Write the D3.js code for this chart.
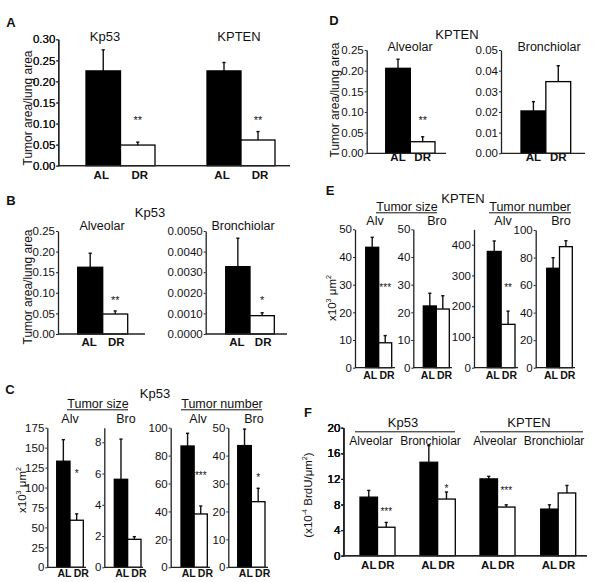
<!DOCTYPE html>
<html><head><meta charset="utf-8">
<script src="https://cdn.jsdelivr.net/npm/d3@7"></script>
<style>body{margin:0;background:#fff}svg{display:block}text{font-family:"Liberation Sans",Arial,sans-serif;fill:#111}</style>
</head><body>
<script>
// ---------- DATA ----------
const groups = ["AL", "DR"];
// Panel A: tumor area / lung area
const aKp53 = [0.225, 0.049], aKp53Err = [0.050, 0.007];
const aKpten = [0.225, 0.061], aKptenErr = [0.020, 0.020];
const aTicks = [0, 0.05, 0.10, 0.15, 0.20, 0.25, 0.30];
// Panel B: Kp53 alveolar / bronchiolar
const bAlv = [0.162, 0.0485], bAlvErr = [0.034, 0.0075];
const bBro = [0.00327, 0.00089], bBroErr = [0.00138, 0.00014];
const bAlvTicks = [0, 0.05, 0.10, 0.15, 0.20, 0.25];
const bBroTicks = [0, 0.001, 0.002, 0.003, 0.004, 0.005];
// Panel C: Kp53 tumor size / number
const cSizeAlv = [133, 59], cSizeAlvErr = [27, 8];
const cSizeBro = [5.63, 1.79], cSizeBroErr = [2.57, 0.17];
const cNumAlv = [86.9, 38.2], cNumAlvErr = [9.1, 5.7];
const cNumBro = [43.6, 23.5], cNumBroErr = [5.9, 4.8];
const cTicks1 = [0, 25, 50, 75, 100, 125, 150, 175];
const cTicks2 = [0, 2, 4, 6, 8];
const cTicks3 = [0, 20, 40, 60, 80, 100];
const cTicks4 = [0, 10, 20, 30, 40, 50];
// Panel D: KPTEN alveolar / bronchiolar
const dAlv = [0.2057, 0.028], dAlvErr = [0.022, 0.012];
const dBro = [0.0205, 0.0347], dBroErr = [0.0045, 0.0077];
const dAlvTicks = [0, 0.05, 0.10, 0.15, 0.20, 0.25];
const dBroTicks = [0, 0.01, 0.02, 0.03, 0.04, 0.05];
// Panel E: KPTEN tumor size / number
const eSizeAlv = [43.5, 9.0], eSizeAlvErr = [3.6, 2.6];
const eSizeBro = [22.3, 21.2], eSizeBroErr = [4.6, 4.8];
const eNumAlv = [378, 141], eNumAlvErr = [34, 43];
const eNumBro = [72.2, 87.9], eNumBroErr = [7.7, 4.3];
const eTicks1 = [0, 10, 20, 30, 40, 50];
const eTicks3 = [0, 100, 200, 300, 400];
const eTicks4 = [0, 20, 40, 60, 80, 100];
// Panel F: BrdU
const fKp53Alv = [9.15, 4.45], fKp53AlvErr = [1.05, 0.75];
const fKp53Bro = [14.6, 8.85], fKp53BroErr = [2.6, 1.1];
const fKptenAlv = [12.0, 7.6], fKptenAlvErr = [0.4, 0.35];
const fKptenBro = [7.28, 9.8], fKptenBroErr = [0.67, 1.18];
const fTicks = [0, 4, 8, 12, 16, 20];

// ---------- DRAW ----------
const svg = d3.select("body").append("svg").attr("width", 600).attr("height", 582);

function txt(x, y, s, o = {}) {
  const t = svg.append("text").attr("x", x).attr("y", y).text(s)
    .attr("font-size", o.size || 12).attr("text-anchor", o.anchor || "middle");
  if (o.bold) t.attr("font-weight", "bold");
  return t;
}
function hline(x1, x2, y, w = 1) {
  svg.append("line").attr("x1", x1).attr("x2", x2).attr("y1", y).attr("y2", y)
    .attr("stroke", "#111").attr("stroke-width", w);
}
function ytitle(cx, cy, parts, size = 12) {
  const t = svg.append("text").attr("transform", `translate(${cx + 4},${cy}) rotate(-90)`)
    .attr("text-anchor", "middle").attr("font-size", size);
  parts.forEach(p => {
    const ts = t.append("tspan").text(p.t);
    if (p.sup) ts.attr("font-size", size * 0.62).attr("dy", -5);
    if (p.down) ts.attr("dy", 5);
  });
}

function sub(o) {
  const y = d3.scaleLinear().domain([0, o.max]).range([o.y0, o.yTop]);
  const x = d3.scaleBand().domain(groups).range(o.band).padding(0);
  const g = svg.append("g");
  const bw = x.bandwidth();
  // error bars
  g.selectAll("line.err").data(o.values).join("line")
    .attr("x1", (d, i) => x(groups[i]) + bw / 2).attr("x2", (d, i) => x(groups[i]) + bw / 2)
    .attr("y1", d => y(d)).attr("y2", (d, i) => y(d + o.err[i]))
    .attr("stroke", "#111").attr("stroke-width", 1.4);
  g.selectAll("line.cap").data(o.values).join("line")
    .attr("x1", (d, i) => x(groups[i]) + bw / 2 - 1.6).attr("x2", (d, i) => x(groups[i]) + bw / 2 + 1.6)
    .attr("y1", (d, i) => y(d + o.err[i])).attr("y2", (d, i) => y(d + o.err[i]))
    .attr("stroke", "#111").attr("stroke-width", 1.4);
  // bars
  g.selectAll("rect").data(o.values).join("rect")
    .attr("x", (d, i) => x(groups[i])).attr("y", d => y(d))
    .attr("width", bw).attr("height", d => y(0) - y(d))
    .attr("fill", (d, i) => i === 0 ? "#000" : "#fff")
    .attr("stroke", "#000").attr("stroke-width", 1.3);
  // baseline
  g.append("line").attr("x1", o.axisX).attr("x2", o.end).attr("y1", o.y0).attr("y2", o.y0)
    .attr("stroke", "#222").attr("stroke-width", 1.3);
  // axis
  const ax = g.append("g").attr("transform", `translate(${o.axisX},0)`)
    .call(d3.axisLeft(y).tickValues(o.ticks).tickFormat(o.fmt).tickSize(2).tickSizeOuter(0).tickPadding(1));
  ax.select(".domain").attr("stroke", "#222").attr("stroke-width", 1.3);
  ax.selectAll(".tick line").attr("stroke", "#222");
  ax.selectAll("text").attr("font-size", o.tickSize || 11.5)
    .attr("font-family", '"Liberation Sans",Arial,sans-serif').attr("fill", "#222");
  // group labels
  if (o.tight !== undefined) {
    const b = x(groups[1]);
    g.append("text").attr("x", b + o.tight).attr("y", o.labY).attr("text-anchor", "end")
      .attr("font-size", 10.5).attr("font-weight", "bold").text(groups[0]);
    g.append("text").attr("x", b + o.tight + 2.2).attr("y", o.labY).attr("text-anchor", "start")
      .attr("font-size", 10.5).attr("font-weight", "bold").text(groups[1]);
  } else {
    groups.forEach((gname, i) => {
      g.append("text").attr("x", x(gname) + bw / 2 + (o.labShift || 0) * (i === 0 ? -1 : 1))
        .attr("y", o.labY).attr("text-anchor", "middle").attr("font-size", 11.5)
        .attr("font-weight", "bold").text(gname);
    });
  }
  // significance
  if (o.star) {
    g.append("text").attr("x", x(groups[1]) + bw / 2).attr("y", y(o.starY) + 7)
      .attr("text-anchor", "middle").attr("font-size", o.starSize || 11).attr("fill", "#111").text(o.star);
  }
}

const f2 = d3.format(".2f"), f4 = d3.format(".4f"), fi = d3.format("d");

// Panel A
txt(11, 27, "A", { bold: true, size: 13 });
txt(105, 41, "Kp53", { size: 13 });
txt(239, 41, "KPTEN", { size: 13 });
ytitle(28, 108, [{ t: "Tumor area/lung area" }]);
sub({ axisX: 58.3, y0: 165.7, yTop: 39.3, max: 0.30, ticks: aTicks, fmt: f2, band: [86, 155], end: 290,
  values: aKp53, err: aKp53Err, labY: 179, labShift: 2, star: "**", starY: 0.115 });
sub({ axisX: 58.3, y0: 165.7, yTop: 39.3, max: 0.30, ticks: aTicks, fmt: f2, band: [207, 275], end: 290,
  values: aKpten, err: aKptenErr, labY: 179, labShift: 2, star: "**", starY: 0.115 });

// Panel B
txt(11, 205, "B", { bold: true, size: 13 });
txt(150, 217, "Kp53", { size: 13 });
txt(102, 229.5, "Alveolar", { size: 12.5 });
txt(243, 229.5, "Bronchiolar", { size: 12.5 });
ytitle(28, 287, [{ t: "Tumor area/lung area" }]);
sub({ axisX: 58, y0: 334, yTop: 231, max: 0.25, ticks: bAlvTicks, fmt: f2, band: [77.7, 127.7], end: 145,
  values: bAlv, err: bAlvErr, labY: 345.5, labShift: 1, star: "**", starY: 0.0905 });
sub({ axisX: 205.7, y0: 334, yTop: 231, max: 0.005, ticks: bBroTicks, fmt: f4, band: [225.7, 274.3], end: 287,
  values: bBro, err: bBroErr, labY: 345.5, labShift: 1, star: "*", starY: 0.00181 });

// Panel C
txt(10, 393.5, "C", { bold: true, size: 13 });
txt(155, 398, "Kp53", { size: 13 });
txt(98, 407.5, "Tumor size", { size: 12.5 });
hline(67, 128, 409.8);
txt(222, 407.5, "Tumor number", { size: 12.5 });
hline(181, 262, 409.8);
txt(70, 423.3, "Alv", { size: 12.5 });
txt(126, 423.3, "Bro", { size: 12.5 });
txt(198, 423.3, "Alv", { size: 12.5 });
txt(254, 423.3, "Bro", { size: 12.5 });
ytitle(22, 490, [{ t: "x10" }, { t: "3", sup: true }, { t: " μm", down: true }, { t: "2", sup: true }], 11.5);
sub({ axisX: 47.3, y0: 567.3, yTop: 427.7, max: 175, ticks: cTicks1, fmt: fi, band: [56.7, 83.3], end: 86,
  values: cSizeAlv, err: cSizeAlvErr, labY: 577, tight: 1.5, star: "*", starY: 122, starSize: 10 });
sub({ axisX: 104.3, y0: 567.3, yTop: 427.7, max: 8.93, ticks: cTicks2, fmt: fi, band: [114.3, 141], end: 143,
  values: cSizeBro, err: cSizeBroErr, labY: 577, tight: 1.5 });
sub({ axisX: 170.7, y0: 567.3, yTop: 427.7, max: 100, ticks: cTicks3, fmt: fi, band: [181, 207.3], end: 210,
  values: cNumAlv, err: cNumAlvErr, labY: 577, tight: 1.5, star: "***", starY: 68.3, starSize: 10 });
sub({ axisX: 228.3, y0: 567.3, yTop: 427.7, max: 50, ticks: cTicks4, fmt: fi, band: [237.7, 265], end: 268,
  values: cNumBro, err: cNumBroErr, labY: 577, tight: 1.5, star: "*", starY: 33.4, starSize: 10 });

// Panel D
txt(334, 25, "D", { bold: true, size: 13 });
txt(457, 38.5, "KPTEN", { size: 13 });
txt(410, 51, "Alveolar", { size: 12.5 });
txt(549, 51, "Bronchiolar", { size: 12.5 });
ytitle(335, 100, [{ t: "Tumor area/lung area" }]);
sub({ axisX: 366.7, y0: 153.3, yTop: 50, max: 0.25, ticks: dAlvTicks, fmt: f2, band: [385.7, 435], end: 446,
  values: dAlv, err: dAlvErr, labY: 161, star: "**", starY: 0.0878 });
sub({ axisX: 501, y0: 153.3, yTop: 50, max: 0.05, ticks: dBroTicks, fmt: f2, band: [521, 570.7], end: 585,
  values: dBro, err: dBroErr, labY: 161 });

// Panel E
txt(330, 195, "E", { bold: true, size: 13 });
txt(463, 203, "KPTEN", { size: 13 });
txt(407, 210.5, "Tumor size", { size: 12.5 });
hline(376, 437, 212.8);
txt(530, 210.5, "Tumor number", { size: 12.5 });
hline(489, 571, 212.8);
txt(375, 225, "Alv", { size: 12.5 });
txt(437, 225, "Bro", { size: 12.5 });
txt(503, 225, "Alv", { size: 12.5 });
txt(561, 225, "Bro", { size: 12.5 });
ytitle(332, 298, [{ t: "x10" }, { t: "3", sup: true }, { t: " μm", down: true }, { t: "2", sup: true }], 11.5);
sub({ axisX: 355, y0: 367.7, yTop: 229.3, max: 50, ticks: eTicks1, fmt: fi, band: [365.7, 391.7], end: 395,
  values: eSizeAlv, err: eSizeAlvErr, labY: 378.5, tight: -1.5, star: "***", starY: 30.2, starSize: 10 });
sub({ axisX: 413.3, y0: 367.7, yTop: 229.3, max: 50, ticks: eTicks1, fmt: fi, band: [423.3, 449.3], end: 452,
  values: eSizeBro, err: eSizeBroErr, labY: 378.5, tight: -1.5 });
sub({ axisX: 474, y0: 367.7, yTop: 229.3, max: 450, ticks: eTicks3, fmt: fi, band: [487.3, 515], end: 518,
  values: eNumAlv, err: eNumAlvErr, labY: 378.5, tight: -1.5, star: "**", starY: 271, starSize: 10 });
sub({ axisX: 535.7, y0: 367.7, yTop: 230, max: 100, ticks: eTicks4, fmt: fi, band: [546.7, 572.3], end: 575,
  values: eNumBro, err: eNumBroErr, labY: 378.5, tight: -1.5 });

// Panel F
txt(308, 417, "F", { bold: true, size: 13 });
txt(403, 426.5, "Kp53", { size: 13 });
hline(355, 455, 431.8);
txt(529, 426.5, "KPTEN", { size: 13 });
hline(480, 583, 431.8);
txt(371, 445, "Alveolar", { size: 12 });
txt(430.5, 445, "Bronchiolar", { size: 12 });
txt(495, 445, "Alveolar", { size: 12 });
txt(554, 445, "Bronchiolar", { size: 12 });
ytitle(308, 495, [{ t: "(x10" }, { t: "-4", sup: true }, { t: " BrdU/μm", down: true }, { t: "2", sup: true }, { t: ")", down: true }], 11.5);
sub({ axisX: 343.3, y0: 555.7, yTop: 427.7, max: 20, ticks: fTicks, fmt: fi, band: [360, 395], end: 587,
  values: fKp53Alv, err: fKp53AlvErr, labY: 569, star: "***", starY: 7.45, starSize: 10 });
sub({ axisX: 343.3, y0: 555.7, yTop: 427.7, max: 20, ticks: fTicks, fmt: fi, band: [420, 455.3], end: 587,
  values: fKp53Bro, err: fKp53BroErr, labY: 569, star: "*", starY: 11.05, starSize: 10 });
sub({ axisX: 343.3, y0: 555.7, yTop: 427.7, max: 20, ticks: fTicks, fmt: fi, band: [480, 515], end: 587,
  values: fKptenAlv, err: fKptenAlvErr, labY: 569, star: "***", starY: 10.7, starSize: 10 });
sub({ axisX: 343.3, y0: 555.7, yTop: 427.7, max: 20, ticks: fTicks, fmt: fi, band: [540.7, 575.7], end: 587,
  values: fKptenBro, err: fKptenBroErr, labY: 569 });
</script>
</body></html>
